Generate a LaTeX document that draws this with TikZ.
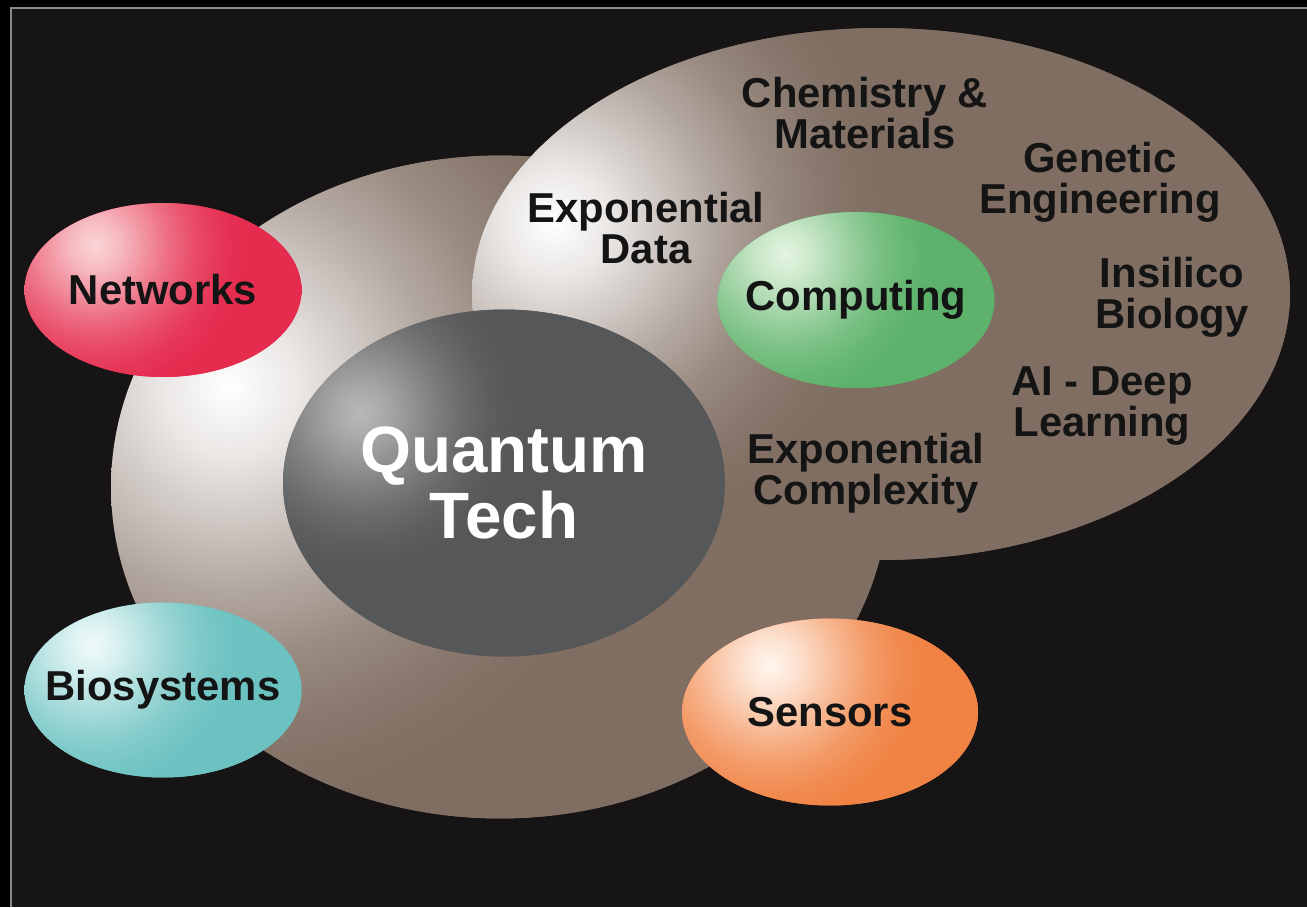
\documentclass[tikz,border=0pt]{standalone}
\usepackage{fontspec}
\setmainfont{Liberation Sans}
\usetikzlibrary{shapes.geometric}
\usetikzlibrary{calc}
\definecolor{bgcol}{HTML}{161415}
\definecolor{edgecol}{HTML}{8A8A8A}
\definecolor{sandcol}{HTML}{806E62}
\definecolor{greycol}{HTML}{565758}
\definecolor{greyhi}{HTML}{B8B8B8}
\definecolor{netcol}{HTML}{E52C4F}
\definecolor{nethi}{HTML}{FAD6D6}
\definecolor{compcol}{HTML}{5CB26A}
\definecolor{comphi}{HTML}{E4F4E0}
\definecolor{biocol}{HTML}{6CC2C1}
\definecolor{biohi}{HTML}{F0FAFA}
\definecolor{senscol}{HTML}{F08243}
\definecolor{senshi}{HTML}{FFF6EE}
\definecolor{inkcol}{HTML}{141414}
\colorlet{glowin}{white}
\colorlet{glowout}{black}
\pgfdeclareradialshading[glowin,glowout]{glow}{\pgfpointorigin}{color(0bp)=(glowin); color(1.6bp)=(glowin!84!glowout); color(3.2bp)=(glowin!62!glowout); color(4.8bp)=(glowin!40!glowout); color(6.4bp)=(glowin!21!glowout); color(8bp)=(glowin!8!glowout); color(9.2bp)=(glowin!2!glowout); color(10bp)=(glowout); color(50bp)=(glowout)}
\begin{document}
\begin{tikzpicture}[x=0.02cm, y=-0.02cm,
        blob/.style n args={4}{ellipse, fill=#1, inner xsep=-0.6cm, inner ysep=0pt, align=center,
            path picture={\colorlet{glowin}{#2}\colorlet{glowout}{#1}
                \shade[shading=glow] ($(path picture bounding box.center)+#3$) circle (#4);}},
        topic/.style={text=inkcol, align=center, font=\bfseries\fontsize{23.8}{23.5}\selectfont}]
        \useasboundingbox (0,0) rectangle (1307,907);
        \fill[black] (0,0) rectangle (1307,907);
        \fill[bgcol] (11,8) rectangle (1307,907);
        \draw[edgecol, line width=0.6pt] (11,907) -- (11,8) -- (1307,8);

        % the two large areas
        \node[blob={sandcol}{white}{(-270,-100)}{21cm}, minimum width=15.56cm, minimum height=13.26cm](big) at (500, 487) {};
        \node[blob={sandcol}{white}{(-326,-72)}{16.5cm}, minimum width=16.36cm, minimum height=10.64cm](top) at (881, 294) {};

        \node[blob={greycol}{greyhi}{(-144,-70)}{8cm}, minimum width=8.84cm, minimum height=6.94cm,
            text=white, font=\bfseries\fontsize{37.3}{38}\selectfont](qt) at (504, 483) {Quantum\\Tech};

        % the four fields round it
        \node[blob={netcol}{nethi}{(-68,-45)}{7.5cm}, minimum width=5.54cm, minimum height=3.48cm, topic](net) at (163, 290) {Networks};
        \node[blob={compcol}{comphi}{(-71,-45)}{7.5cm}, minimum width=5.54cm, minimum height=3.52cm, topic](comp) at (856, 300) {Computing};
        \node[blob={biocol}{biohi}{(-71,-45)}{7.5cm}, minimum width=5.54cm, minimum height=3.5cm, topic](bio) at (163, 690) {Biosystems};
        \node[blob={senscol}{senshi}{(-60,-47)}{8cm}, minimum width=5.92cm, minimum height=3.74cm, topic](sens) at (830, 712) {Sensors};

        % uses of computing
        \node[topic](data) at (646, 228) {Exponential\\Data};
        \node[topic](chem) at (865, 113) {Chemistry \&\\Materials};
        \node[topic](gene) at (1100, 182) {Genetic\\Engineering};
        \node[topic](insil) at (1172, 297) {Insilico\\Biology};
        \node[topic](ai) at (1102, 406) {AI - Deep\\Learning};
        \node[topic](cplx) at (866, 473) {Exponential\\Complexity};
\end{tikzpicture}
\end{document}
